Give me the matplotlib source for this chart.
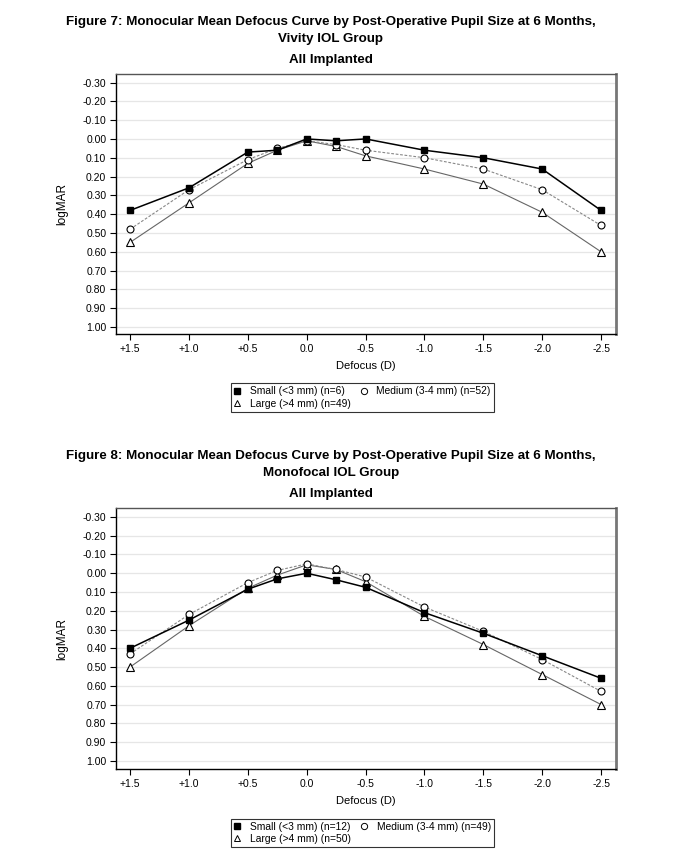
import matplotlib
matplotlib.use("Agg")
import matplotlib.pyplot as plt
from matplotlib.lines import Line2D

plt.rcParams['font.family'] = ['Liberation Sans', 'DejaVu Sans']

defocus = [1.5, 1.0, 0.5, 0.25, 0.0, -0.25, -0.5, -1.0, -1.5, -2.0, -2.5]
xticks = [1.5, 1.0, 0.5, 0.0, -0.5, -1.0, -1.5, -2.0, -2.5]
xticklabels = ["+1.5", "+1.0", "+0.5", "0.0", "-0.5", "-1.0", "-1.5", "-2.0", "-2.5"]
yticks = [-0.3, -0.2, -0.1, 0.0, 0.1, 0.2, 0.3, 0.4, 0.5, 0.6, 0.7, 0.8, 0.9, 1.0]
yticklabels = ["-0.30", "-0.20", "-0.10", "0.00", "0.10", "0.20", "0.30", "0.40",
               "0.50", "0.60", "0.70", "0.80", "0.90", "1.00"]

# Figure 7: Vivity IOL group
viv_small = [0.38, 0.26, 0.07, 0.06, 0.00, 0.01, 0.00, 0.06, 0.10, 0.16, 0.38]
viv_medium = [0.48, 0.27, 0.11, 0.05, 0.01, 0.03, 0.06, 0.10, 0.16, 0.27, 0.46]
viv_large = [0.55, 0.34, 0.13, 0.06, 0.01, 0.04, 0.09, 0.16, 0.24, 0.39, 0.60]
viv_labels = ["Small (<3 mm) (n=6)", "Medium (3-4 mm) (n=52)", "Large (>4 mm) (n=49)"]

# Figure 8: Monofocal IOL group
mono_small = [0.40, 0.25, 0.085, 0.03, 0.00, 0.035, 0.075, 0.21, 0.32, 0.44, 0.56]
mono_medium = [0.43, 0.22, 0.05, -0.015, -0.05, -0.02, 0.02, 0.18, 0.31, 0.46, 0.63]
mono_large = [0.50, 0.28, 0.08, 0.01, -0.045, -0.02, 0.045, 0.23, 0.38, 0.54, 0.70]
mono_labels = ["Small (<3 mm) (n=12)", "Medium (3-4 mm) (n=49)", "Large (>4 mm) (n=50)"]

fig = plt.figure(figsize=(6.79, 8.67), dpi=100)


def draw(ax_rect, small, medium, large, labels, title_lines, legend_y, ylim):
    ax = fig.add_axes(ax_rect)
    ax.plot(defocus, small, color='black', lw=1.1, marker='s', ms=4.2,
            mfc='black', mec='black', zorder=4)
    ax.plot(defocus, medium, color='#888888', lw=0.8, ls=(0, (2.5, 1.5)), marker='o', ms=5,
            mfc='white', mec='black', mew=0.8, zorder=3)
    ax.plot(defocus, large, color='#666666', lw=0.8, marker='^', ms=5.5,
            mfc='white', mec='black', mew=0.8, zorder=2)
    ax.set_xlim(1.62, -2.627)
    ax.set_ylim(*ylim)
    ax.set_xticks(xticks)
    ax.set_xticklabels(xticklabels)
    ax.set_yticks(yticks)
    ax.set_yticklabels(yticklabels)
    ax.tick_params(axis='both', labelsize=7.5, direction='out', length=4, width=0.8,
                   color='black', pad=3)
    ax.yaxis.grid(True, color='#e6e6e6', lw=0.9)
    ax.set_axisbelow(True)
    for s in ['left', 'bottom']:
        ax.spines[s].set_color('black')
        ax.spines[s].set_linewidth(1.0)
    ax.spines['top'].set_color('#555555')
    ax.spines['top'].set_linewidth(1.0)
    ax.spines['right'].set_color('#777777')
    ax.spines['right'].set_linewidth(2.0)
    ax.set_xlabel("Defocus (D)", fontsize=8, labelpad=5)
    ax.set_ylabel("logMAR", fontsize=8.5, labelpad=10)

    top = ax_rect[1] + ax_rect[3]
    cx = 0.487
    fig.text(cx, top + 0.0605, title_lines[0], ha='center', va='center',
             fontsize=9.6, fontweight='bold')
    fig.text(cx, top + 0.0405, title_lines[1], ha='center', va='center',
             fontsize=9.6, fontweight='bold')
    fig.text(cx, top + 0.0165, title_lines[2], ha='center', va='center',
             fontsize=9.6, fontweight='bold')

    handles = [
        Line2D([], [], ls='none', marker='s', ms=3.8, mfc='black', mec='black'),
        Line2D([], [], ls='none', marker='^', ms=4.8, mfc='white', mec='black', mew=0.7),
        Line2D([], [], ls='none', marker='o', ms=4.5, mfc='white', mec='black', mew=0.7),
    ]
    labs = [labels[0], labels[2], labels[1]]
    leg = fig.legend(handles, labs, loc='center', bbox_to_anchor=(0.534, legend_y),
                     ncol=2, fontsize=7.4, frameon=True, fancybox=False,
                     edgecolor='black', handlelength=0.6, handletextpad=0.9,
                     columnspacing=1.0, labelspacing=0.2, borderpad=0.3,
                     borderaxespad=0)
    leg.get_frame().set_linewidth(0.8)
    return ax


draw([0.1708, 0.6148, 0.7364, 0.2998], viv_small, viv_medium, viv_large, viv_labels,
     ["Figure 7: Monocular Mean Defocus Curve by Post-Operative Pupil Size at 6 Months,",
      "Vivity IOL Group", "All Implanted"],
     1 - 397.5 / 867, (1.037, -0.345))

draw([0.1708, 0.1130, 0.7364, 0.3011], mono_small, mono_medium, mono_large, mono_labels,
     ["Figure 8: Monocular Mean Defocus Curve by Post-Operative Pupil Size at 6 Months,",
      "Monofocal IOL Group", "All Implanted"],
     1 - 833 / 867, (1.044, -0.348))

fig.savefig("out.png", dpi=100)
